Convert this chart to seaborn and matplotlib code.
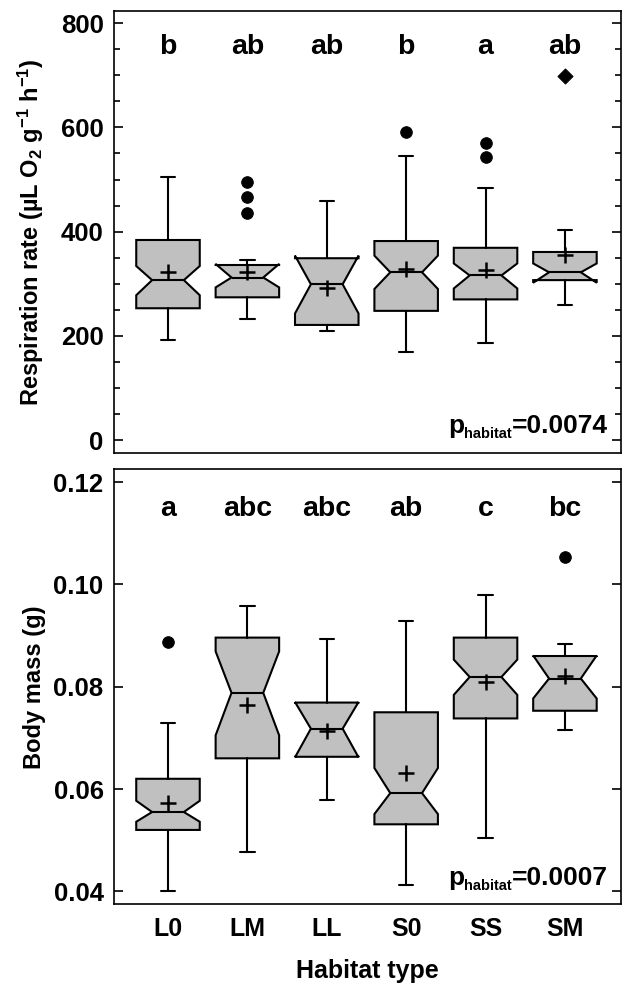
import numpy as np
import pandas as pd
import matplotlib
matplotlib.use("Agg")
import matplotlib.pyplot as plt
import seaborn as sns

categories = ["L0", "LM", "LL", "S0", "SS", "SM"]

# Respiration rate (µL O2 g-1 h-1)
resp_med = [307, 312, 299, 322, 316, 322]
resp_q1 = [253, 274, 221, 248, 270, 307]
resp_q3 = [384, 336, 349, 382, 369, 361]
resp_whislo = [193, 233, 210, 170, 186, 260]
resp_whishi = [504, 346, 458, 545, 483, 403]
resp_mean = [322, 322, 291, 328, 326, 356]
resp_cilo = [278, 293, 243, 290, 291, 302]
resp_cihi = [334, 338, 354, 354, 339, 339]
resp_out_cat = ["LM", "LM", "LM", "S0", "SS", "SS"]
resp_out_val = [435, 466, 495, 591, 543, 570]
resp_ext_cat = ["SM"]
resp_ext_val = [699]
resp_letters = ["b", "ab", "ab", "b", "a", "ab"]
resp_p = "=0.0074"

# Body mass (g)
bm_med = [0.0555, 0.0788, 0.0718, 0.0592, 0.0819, 0.0816]
bm_q1 = [0.0520, 0.0660, 0.0663, 0.0531, 0.0738, 0.0753]
bm_q3 = [0.0620, 0.0896, 0.0769, 0.0750, 0.0896, 0.0860]
bm_whislo = [0.0400, 0.0476, 0.0579, 0.0412, 0.0504, 0.0716]
bm_whishi = [0.0729, 0.0957, 0.0893, 0.0928, 0.0979, 0.0883]
bm_mean = [0.0572, 0.0764, 0.0714, 0.0632, 0.0810, 0.0820]
bm_cilo = [0.0536, 0.0705, 0.0662, 0.0551, 0.0784, 0.0777]
bm_cihi = [0.0577, 0.0869, 0.0770, 0.0641, 0.0853, 0.0861]
bm_out_cat = ["L0", "SM"]
bm_out_val = [0.0888, 0.1054]
bm_letters = ["a", "abc", "abc", "ab", "c", "bc"]
bm_p = "=0.0007"

sns.set_theme(style="white")
plt.rcParams["font.family"] = ["Liberation Sans", "DejaVu Sans"]
plt.rcParams["font.weight"] = "bold"
plt.rcParams["text.color"] = "black"
plt.rcParams["axes.labelcolor"] = "black"
plt.rcParams["xtick.color"] = "black"
plt.rcParams["ytick.color"] = "black"
plt.rcParams["mathtext.fontset"] = "custom"
plt.rcParams["mathtext.rm"] = "Liberation Sans:bold"
plt.rcParams["mathtext.it"] = "Liberation Sans:bold"
plt.rcParams["mathtext.bf"] = "Liberation Sans:bold"

fig = plt.figure(figsize=(6.23, 9.92), dpi=100)
ax1 = fig.add_axes([0.183, 0.5436, 0.813, 0.4456])
ax2 = fig.add_axes([0.183, 0.0884, 0.813, 0.4385])

pos = {c: i for i, c in enumerate(categories)}
FILL = "#c0c0c0"
LW = 1.5


def draw_panel(ax, med, q1, q3, wlo, whi, mean, cilo, cihi, out_cat, out_val,
               ext_cat, ext_val, letters, letter_y, ylim):
    stats = []
    for i, c in enumerate(categories):
        stats.append(dict(label=c, med=med[i], q1=q1[i], q3=q3[i],
                          whislo=wlo[i], whishi=whi[i], mean=mean[i],
                          cilo=cilo[i], cihi=cihi[i], fliers=[]))
    ax.bxp(stats, positions=list(range(len(categories))), widths=0.8,
           capwidths=0.18, patch_artist=True, shownotches=True,
           showmeans=False, showfliers=False, manage_ticks=False,
           boxprops=dict(facecolor=FILL, edgecolor="black", linewidth=LW),
           whiskerprops=dict(color="black", linewidth=LW),
           capprops=dict(color="black", linewidth=LW),
           medianprops=dict(color="black", linewidth=LW))
    mdf = pd.DataFrame({"x": [pos[c] for c in categories], "y": mean})
    sns.scatterplot(data=mdf, x="x", y="y", marker="+", s=120, color="black",
                    linewidth=1.8, ax=ax, zorder=5, legend=False)
    if out_val:
        odf = pd.DataFrame({"x": [pos[c] for c in out_cat], "y": out_val})
        sns.scatterplot(data=odf, x="x", y="y", marker="o", s=70, color="black",
                        edgecolor="black", ax=ax, zorder=5, legend=False)
    if ext_val:
        edf = pd.DataFrame({"x": [pos[c] for c in ext_cat], "y": ext_val})
        sns.scatterplot(data=edf, x="x", y="y", marker="D", s=60, color="black",
                        edgecolor="black", ax=ax, zorder=5, legend=False)
    for i, t in enumerate(letters):
        ax.text(i, letter_y, t, ha="center", va="baseline", fontsize=20.5,
                fontweight="bold", color="black")
    ax.set_xlim(-0.68, 5.70)
    ax.set_ylim(*ylim)
    ax.set_xlabel("")
    for sp in ax.spines.values():
        sp.set_visible(True)
        sp.set_color("black")
        sp.set_linewidth(1.2)
    ax.tick_params(axis="y", which="major", direction="in", length=6.5,
                   width=1.2, color="black", left=True, right=True,
                   labelsize=18.5, pad=7.5, labelcolor="black")
    ax.tick_params(axis="y", which="minor", direction="in", length=4,
                   width=1.2, color="black", left=True, right=True)


draw_panel(ax1, resp_med, resp_q1, resp_q3, resp_whislo, resp_whishi,
           resp_mean, resp_cilo, resp_cihi, resp_out_cat, resp_out_val,
           resp_ext_cat, resp_ext_val, resp_letters, 740, (-24.3, 824))
ax1.set_yticks([0, 200, 400, 600, 800])
ax1.set_yticks(np.arange(0, 801, 50), minor=True)
ax1.set_xticks([])
ax1.set_ylabel("Respiration rate (µL O$_2$ g$^{-1}$ h$^{-1}$)", fontsize=17,
               fontweight="bold", color="black")

draw_panel(ax2, bm_med, bm_q1, bm_q3, bm_whislo, bm_whishi, bm_mean,
           bm_cilo, bm_cihi, bm_out_cat, bm_out_val, [], [], bm_letters,
           0.1133, (0.03746, 0.1225))
ax2.set_yticks([0.04, 0.06, 0.08, 0.10, 0.12])
ax2.set_yticklabels(["0.04", "0.06", "0.08", "0.10", "0.12"])
ax2.set_xticks(range(len(categories)))
ax2.set_xticklabels(categories)
ax2.tick_params(axis="x", length=0, labelsize=18, pad=9, labelcolor="black")
for ax in (ax1, ax2):
    for lab in ax.get_xticklabels() + ax.get_yticklabels():
        lab.set_fontweight("bold")
ax2.set_ylabel("Body mass (g)", fontsize=17, fontweight="bold", color="black")
ax2.set_xlabel("Habitat type", fontsize=18, fontweight="bold",
               color="black", labelpad=13)

for ax in (ax1, ax2):
    ax.yaxis.set_label_coords(-0.135, 0.5)

# p-value annotations: "p" + small "habitat" + "=value"
fig.canvas.draw()
renderer = fig.canvas.get_renderer()
W = fig.dpi * 6.23
H = fig.dpi * 9.92
for ax, ptxt in ((ax1, resp_p), (ax2, bm_p)):
    xd, yd = ax.transAxes.transform((0.975, 0.044))
    t1 = fig.text(xd / W, yd / H, ptxt, ha="right", va="baseline",
                  fontsize=19, fontweight="bold", color="black")
    bb1 = t1.get_window_extent(renderer)
    t2 = fig.text((bb1.x0 - 0.5) / W, (yd - 5) / H, "habitat", ha="right",
                  va="baseline", fontsize=10.5, fontweight="bold",
                  color="black")
    bb2 = t2.get_window_extent(renderer)
    fig.text((bb2.x0 + 0.5) / W, yd / H, "p", ha="right", va="baseline",
             fontsize=19, fontweight="bold", color="black")

fig.savefig("out.png", dpi=100)
